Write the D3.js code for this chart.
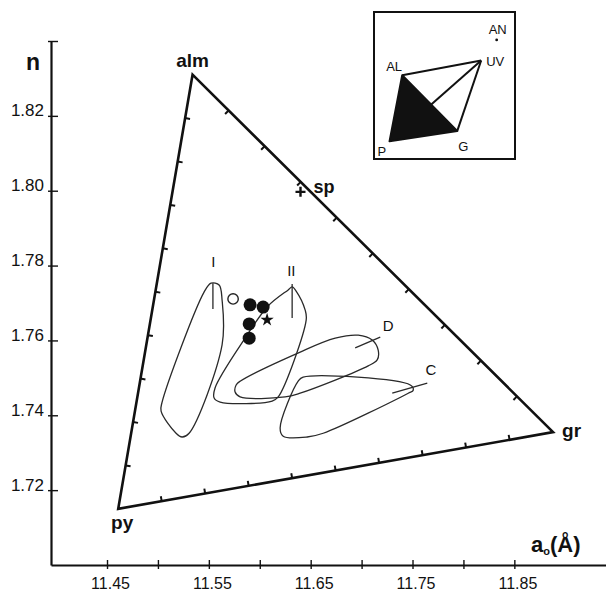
<!DOCTYPE html>
<html>
<head>
<meta charset="utf-8">
<script src="https://cdn.jsdelivr.net/npm/d3@7"></script>
<style>
  body { margin: 0; background: #fff; }
  svg text { font-family: "Liberation Sans", Arial, Helvetica, sans-serif; fill: #111; }
  .field { fill: none; stroke: #2a2a2a; stroke-width: 1.3; stroke-linejoin: round; }
</style>
</head>
<body>
<div id="chart"></div>
<script>
// cell edge a0 (Angstrom) vs refractive index n, garnet end members
const xTicks = [11.45, 11.50, 11.55, 11.60, 11.65, 11.70, 11.75, 11.80, 11.85];
const xLabelled = [11.45, 11.55, 11.65, 11.75, 11.85];
const yTicks = [1.72, 1.74, 1.76, 1.78, 1.80, 1.82, 1.84];
const yLabelled = [1.72, 1.74, 1.76, 1.78, 1.80, 1.82];

const endMembers = [
  {name: "alm", a: 11.534, n: 1.831},
  {name: "py",  a: 11.461, n: 1.715},
  {name: "gr",  a: 11.888, n: 1.7355}
];
const spessartine = {name: "sp", a: 11.640, n: 1.7997};

// outlined fields
const fieldI = [[11.5453,1.7729],[11.5522,1.7753],[11.5601,1.7748],[11.5630,1.7708],[11.5630,1.7588],
  [11.5306,1.7352],[11.5237,1.7342],[11.5178,1.7352],[11.5031,1.7411],[11.5041,1.7435]];
const fieldII = [[11.6279,1.7735],[11.6318,1.7743],[11.6357,1.7732],[11.6446,1.7681],[11.6456,1.7655],
  [11.6181,1.7449],[11.6122,1.7438],[11.5611,1.7435],[11.5552,1.7446],[11.5561,1.7473],
  [11.5856,1.7606],[11.6082,1.7692]];
const fieldD = [[11.5807,1.7491],[11.6397,1.7569],[11.6741,1.7606],[11.6967,1.7614],[11.7104,1.7601],
  [11.7163,1.7574],[11.7153,1.7548],[11.7065,1.7532],[11.6397,1.7459],[11.6249,1.7449],
  [11.5807,1.7449],[11.5758,1.7462],[11.5768,1.7481]];
const fieldC = [[11.6426,1.7502],[11.7478,1.7481],[11.7507,1.7467],[11.7458,1.7459],[11.6623,1.7352],
  [11.6466,1.7342],[11.6230,1.7344],[11.6200,1.7366],[11.6377,1.7491]];
const fields = [fieldI, fieldII, fieldD, fieldC];

// field labels: text, text position, leader line
const fieldLabels = [
  {text: "I",  at: [11.5545, 1.7797], line: [[11.5540,1.7753],[11.5540,1.7684]]},
  {text: "II", at: [11.6310, 1.7772], line: [[11.6318,1.7751],[11.6318,1.7660]]},
  {text: "D",  at: [11.7260, 1.7626], line: [[11.6937,1.7580],[11.7183,1.7609]]},
  {text: "C",  at: [11.7680, 1.7508], line: [[11.7301,1.7459],[11.7645,1.7486]]}
];

const filledPts = [[11.5905,1.7695],[11.6033,1.7689],[11.5896,1.7644],[11.5896,1.7606]];
const openPts = [[11.5738,1.7711]];
const starPts = [[11.6072,1.7655]];

// inset tetrahedron (inset units 0..100)
const insetNodes = {AL: [20, 57], UV: [76, 67], G: [59, 19], P: [11, 12], AN: [87, 81]};
const insetEdges = [["AL","UV"], ["UV","G"], ["UV","P"]];
const insetFace = ["AL", "P", "G"];

const W = 606, H = 594;
const svg = d3.select('#chart').append('svg')
  .attr('width', W).attr('height', H);

const x = d3.scaleLinear().domain([11.395, 11.94]).range([51, 606]);
const y = d3.scaleLinear().domain([1.70, 1.84]).range([565, 41]);

// x axis
const gx = svg.append('g')
  .attr('transform', `translate(0,${y(1.70)})`)
  .call(d3.axisBottom(x).tickValues(xTicks).tickSize(4).tickSizeOuter(0)
    .tickFormat(d => xLabelled.some(v => Math.abs(v - d) < 1e-6) ? d.toFixed(2) : ""));
gx.select('.domain').attr('stroke', '#111').attr('stroke-width', 2.2);
gx.selectAll('.tick line').attr('y1', -5).attr('stroke', '#111').attr('stroke-width', 1.4);
gx.selectAll('.tick text').attr('y', 13).attr('dx', 3)
  .style('font-size', '16px').attr('fill', '#222');

// y axis
const gy = svg.append('g')
  .attr('transform', `translate(${x(11.395)},0)`)
  .call(d3.axisLeft(y).tickValues(yTicks).tickSize(2).tickSizeOuter(0)
    .tickFormat(d => yLabelled.some(v => Math.abs(v - d) < 1e-6) ? d.toFixed(2) : ""));
gy.select('.domain').attr('stroke', '#111').attr('stroke-width', 2.2);
gy.selectAll('.tick line').attr('x2', 7).attr('x1', -3).attr('stroke', '#111').attr('stroke-width', 1.4);
gy.selectAll('.tick text').attr('x', -7).attr('dy', '0em')
  .style('font-size', '17px').attr('fill', '#222');

svg.append('text').attr('x', 33).attr('y', 70).attr('text-anchor', 'middle')
  .style('font-size', '23px').style('font-weight', 'bold').text('n');

const axTitle = svg.append('text').attr('x', 531).attr('y', 552)
  .style('font-size', '22px').style('font-weight', 'bold');
axTitle.append('tspan').text('a');
axTitle.append('tspan').attr('dy', 3).style('font-size', '11px').text('o');
axTitle.append('tspan').attr('dy', -3).text('(Å)');

// ternary triangle
const tri = svg.append('g');
tri.append('path')
  .attr('d', d3.line().x(d => x(d.a)).y(d => y(d.n)).curve(d3.curveLinearClosed)(endMembers))
  .attr('fill', 'none').attr('stroke', '#111').attr('stroke-width', 2.6)
  .attr('stroke-linejoin', 'miter');

// 10% ticks along the edges, drawn on the inner side
endMembers.forEach((a, i) => {
  const b = endMembers[(i + 1) % 3];
  const ax = x(a.a), ay = y(a.n), bx = x(b.a), by = y(b.n);
  const len = Math.hypot(bx - ax, by - ay);
  const nx = (by - ay) / len, ny = -(bx - ax) / len;
  for (let k = 1; k < 10; k++) {
    const px = ax + (bx - ax) * k / 10, py = ay + (by - ay) * k / 10;
    tri.append('line')
      .attr('x1', px).attr('y1', py)
      .attr('x2', px + nx * 5).attr('y2', py + ny * 5)
      .attr('stroke', '#111').attr('stroke-width', 2);
  }
});

const labelOffset = {alm: [0, -8, 'middle'], py: [4, 20, 'middle'], gr: [9, 5, 'start']};
endMembers.forEach(d => {
  const o = labelOffset[d.name];
  tri.append('text')
    .attr('x', x(d.a) + o[0]).attr('y', y(d.n) + o[1])
    .attr('text-anchor', o[2])
    .style('font-size', '19px').style('font-weight', 'bold')
    .text(d.name);
});

// spessartine cross
const spG = svg.append('g')
  .attr('transform', `translate(${x(spessartine.a)},${y(spessartine.n)})`);
spG.append('path').attr('d', 'M-5,0H5M0,-5V5')
  .attr('stroke', '#111').attr('stroke-width', 2.4);
spG.append('text').attr('x', 13).attr('y', 1)
  .style('font-size', '18px').style('font-weight', 'bold').text('sp');

// fields
const fieldLine = d3.line().x(d => x(d[0])).y(d => y(d[1]))
  .curve(d3.curveCatmullRomClosed.alpha(0.5));
svg.append('g').selectAll('path')
  .data(fields)
  .join('path')
  .attr('class', 'field')
  .attr('d', fieldLine);

const lab = svg.append('g');
lab.selectAll('line')
  .data(fieldLabels)
  .join('line')
  .attr('x1', d => x(d.line[0][0])).attr('y1', d => y(d.line[0][1]))
  .attr('x2', d => x(d.line[1][0])).attr('y2', d => y(d.line[1][1]))
  .attr('stroke', '#2a2a2a').attr('stroke-width', 1.3);
lab.selectAll('text')
  .data(fieldLabels)
  .join('text')
  .attr('x', d => x(d.at[0])).attr('y', d => y(d.at[1]))
  .attr('text-anchor', 'middle')
  .style('font-size', '15px')
  .text(d => d.text);

// sample points
svg.append('g').selectAll('circle')
  .data(filledPts)
  .join('circle')
  .attr('cx', d => x(d[0])).attr('cy', d => y(d[1]))
  .attr('r', 6.5).attr('fill', '#111');
svg.append('g').selectAll('circle')
  .data(openPts)
  .join('circle')
  .attr('cx', d => x(d[0])).attr('cy', d => y(d[1]))
  .attr('r', 5.2).attr('fill', '#fff').attr('stroke', '#222').attr('stroke-width', 1.4);
svg.append('g').selectAll('path')
  .data(starPts)
  .join('path')
  .attr('transform', d => `translate(${x(d[0])},${y(d[1])})`)
  .attr('d', d3.symbol(d3.symbolStar, 55))
  .attr('fill', '#111');

// inset
const ix = d3.scaleLinear().domain([0, 100]).range([374, 515]);
const iy = d3.scaleLinear().domain([0, 100]).range([159, 12]);
const inset = svg.append('g');
inset.append('rect')
  .attr('x', ix(0)).attr('y', iy(100))
  .attr('width', ix(100) - ix(0)).attr('height', iy(0) - iy(100))
  .attr('fill', '#fff').attr('stroke', '#111').attr('stroke-width', 2);
inset.selectAll('line')
  .data(insetEdges)
  .join('line')
  .attr('x1', d => ix(insetNodes[d[0]][0])).attr('y1', d => iy(insetNodes[d[0]][1]))
  .attr('x2', d => ix(insetNodes[d[1]][0])).attr('y2', d => iy(insetNodes[d[1]][1]))
  .attr('stroke', '#111').attr('stroke-width', 2);
inset.append('path')
  .attr('d', d3.line().x(k => ix(insetNodes[k][0])).y(k => iy(insetNodes[k][1]))
    .curve(d3.curveLinearClosed)(insetFace))
  .attr('fill', '#111').attr('stroke', '#111').attr('stroke-width', 2)
  .attr('stroke-linejoin', 'round');
inset.append('circle')
  .attr('cx', ix(insetNodes.AN[0])).attr('cy', iy(insetNodes.AN[1]))
  .attr('r', 1.4).attr('fill', '#111');

const insetLabel = {AL: [-16, -4], UV: [5, 5], G: [1, 20], P: [-12, 15], AN: [-8, -6]};
inset.selectAll('text')
  .data(Object.keys(insetLabel))
  .join('text')
  .attr('x', k => ix(insetNodes[k][0]) + insetLabel[k][0])
  .attr('y', k => iy(insetNodes[k][1]) + insetLabel[k][1])
  .style('font-size', '13px')
  .text(k => k);
</script>
</body>
</html>
